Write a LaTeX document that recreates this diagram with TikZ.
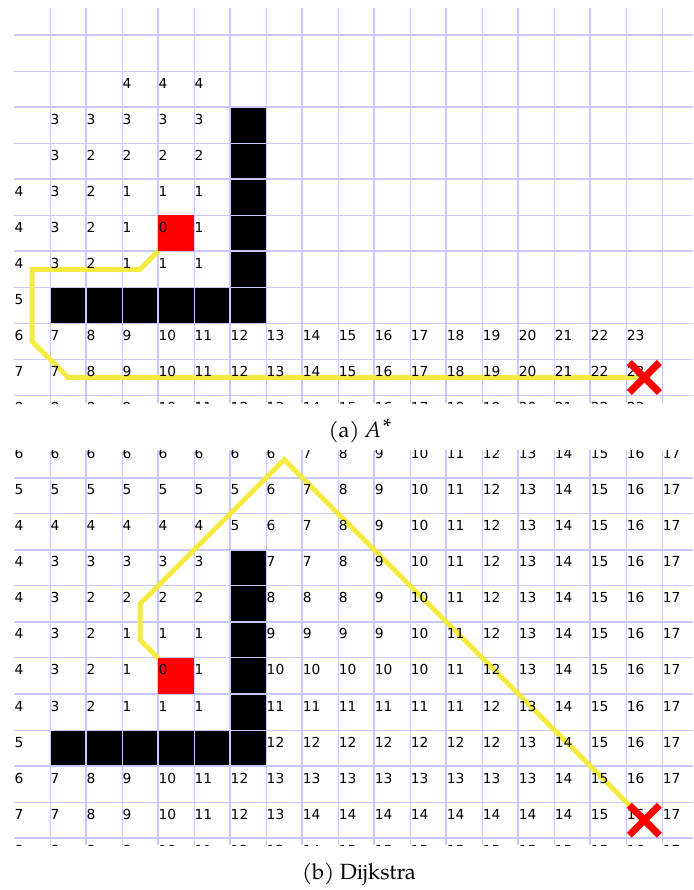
\documentclass[tikz,border=0pt]{standalone}
\usepackage{fontspec}
\usetikzlibrary{calc}
\newfontfamily\gridfont{DejaVu Sans}
\newfontfamily\capfont{TeX Gyre Pagella}
\definecolor{gridc}{RGB}{200,200,255}
\definecolor{pathc}{RGB}{245,234,66}
\tikzset{
  num/.style={font={\gridfont\fontsize{13.8pt}{16pt}\selectfont}, anchor=base west, inner sep=0pt, text=black},
  thingrid/.style={draw=gridc, line width=1pt},
  thickgrid/.style={draw=gridc, line width=1.7pt},
  route/.style={draw=pathc, line width=5pt},
  goalmark/.style={draw=red, line width=7pt},
  caption/.style={font={\capfont\fontsize{22pt}{26pt}\selectfont}, anchor=base, inner sep=0pt},
}
\def\nocell{-}
% #1 name prefix, #2 Y0, #3 row index, #4 list of values
\newcommand\cellrow[4]{%
  \foreach \v [count=\i from 0] in {#4} {%
    \ifx\v\nocell\else
      \node[num] (#1-\i) at ({14.4+36.02*\i},{#2+36.05*(#3)+17}) {\v};
    \fi}}
% #1 Y0, #2 top clip, #3 bottom clip
\newcommand\panelgrid[3]{%
  \foreach \c in {1,3,...,17} \draw[thingrid] ({14+36.02*\c},#2) -- ({14+36.02*\c},#3);
  \foreach \c in {2,4,...,18} \draw[thickgrid] ({14+36.02*\c},#2) -- ({14+36.02*\c},#3);
  \foreach \k in {-1,1,3,...,11} \draw[thingrid] (14,{#1+36.05*\k}) -- (693,{#1+36.05*\k});
  \foreach \k in {0,2,...,10} \draw[thickgrid] (14,{#1+36.05*\k}) -- (693,{#1+36.05*\k});
}
% #1 Y0 : obstacle cells
\newcommand\walls[1]{%
  \foreach \r in {2,...,7} \fill[black] ({14+36.02*6},{#1+36.05*\r}) rectangle ++(36.02,36.05);
  \foreach \c in {1,...,5} \fill[black] ({14+36.02*\c},{#1+36.05*7}) rectangle ++(36.02,36.05);
}
\begin{document}
\begin{tikzpicture}[x=1pt,y=-1pt]
\useasboundingbox (0,0) rectangle (693,890);

% ---------------- (a) A* ----------------
\begin{scope}
  \clip (14,8) rectangle (693,403);
  \walls{35}
  \panelgrid{35}{8}{403}
  \coordinate (a0) at ({32+36.02*4},{35+36.05*5+18});
  \coordinate (a1) at ({32+36.02*3},{35+36.05*6+18});
  \coordinate (a2) at ({32+36.02*0},{35+36.05*6+18});
  \coordinate (a3) at ({32+36.02*0},{35+36.05*8+18});
  \coordinate (a4) at ({32+36.02*1},{35+36.05*9+18});
  \coordinate (a5) at ({32+36.02*17},{35+36.05*9+18});
  \draw[route] (a0) -- (a1) -- (a2) -- (a3) -- (a4) -- (a5);
  \fill[red] ({14+36.02*4},{35+36.05*5}) rectangle ++(36.02,36.05);
  \cellrow{a1}{35}{1}{-,-,-,4,4,4}
  \cellrow{a2}{35}{2}{-,3,3,3,3,3}
  \cellrow{a3}{35}{3}{-,3,2,2,2,2}
  \cellrow{a4}{35}{4}{4,3,2,1,1,1}
  \cellrow{a5}{35}{5}{4,3,2,1,0,1}
  \cellrow{a6}{35}{6}{4,3,2,1,1,1}
  \cellrow{a7}{35}{7}{5}
  \cellrow{a8}{35}{8}{6,7,8,9,10,11,12,13,14,15,16,17,18,19,20,21,22,23}
  \cellrow{a9}{35}{9}{7,7,8,9,10,11,12,13,14,15,16,17,18,19,20,21,22,23}
  \cellrow{a10}{35}{10}{8,8,8,9,10,11,12,13,14,15,16,17,18,19,20,21,22,23}
  \draw[goalmark] ($(a5)+(-15,-15)$) coordinate (ax1) -- ($(a5)+(15,15)$) coordinate (ax2);
  \draw[goalmark] ($(a5)+(-15,15)$) coordinate (ax3) -- ($(a5)+(15,-15)$) coordinate (ax4);
\end{scope}
\node[caption] (capa) at (360,437) {(a) {\itshape A}\kern0.08em\raisebox{0.12em}{*}};

% ---------------- (b) Dijkstra ----------------
\begin{scope}
  \clip (14,450) rectangle (693,845);
  \walls{477.7}
  \panelgrid{477.7}{450}{845}
  \coordinate (b0) at ({32+36.02*4},{477.7+36.05*5+18});
  \coordinate (b1) at ({32+36.02*3},{477.7+36.05*4+18});
  \coordinate (b2) at ({32+36.02*3},{477.7+36.05*3+18});
  \coordinate (b3) at ({32+36.02*7},{477.7+36.05*(-1)+18});
  \coordinate (b4) at ({32+36.02*17},{477.7+36.05*9+18});
  \draw[route] (b0) -- (b1) -- (b2) -- (b3) -- (b4);
  \fill[red] ({14+36.02*4},{477.7+36.05*5}) rectangle ++(36.02,36.05);
  \cellrow{bm1}{477.7}{-1}{6,6,6,6,6,6,6,6,7,8,9,10,11,12,13,14,15,16,17}
  \cellrow{b0}{477.7}{0}{5,5,5,5,5,5,5,6,7,8,9,10,11,12,13,14,15,16,17}
  \cellrow{b1}{477.7}{1}{4,4,4,4,4,4,5,6,7,8,9,10,11,12,13,14,15,16,17}
  \cellrow{b2}{477.7}{2}{4,3,3,3,3,3,-,7,7,8,9,10,11,12,13,14,15,16,17}
  \cellrow{b3}{477.7}{3}{4,3,2,2,2,2,-,8,8,8,9,10,11,12,13,14,15,16,17}
  \cellrow{b4}{477.7}{4}{4,3,2,1,1,1,-,9,9,9,9,10,11,12,13,14,15,16,17}
  \cellrow{b5}{477.7}{5}{4,3,2,1,0,1,-,10,10,10,10,10,11,12,13,14,15,16,17}
  \cellrow{b6}{477.7}{6}{4,3,2,1,1,1,-,11,11,11,11,11,11,12,13,14,15,16,17}
  \cellrow{b7}{477.7}{7}{5,-,-,-,-,-,-,12,12,12,12,12,12,12,13,14,15,16,17}
  \cellrow{b8}{477.7}{8}{6,7,8,9,10,11,12,13,13,13,13,13,13,13,13,14,15,16,17}
  \cellrow{b9}{477.7}{9}{7,7,8,9,10,11,12,13,14,14,14,14,14,14,14,14,15,16,17}
  \cellrow{b10}{477.7}{10}{8,8,8,9,10,11,12,13,14,15,15,15,15,15,15,15,15,16,17}
  \draw[goalmark] ($(b4)+(-15,-15)$) coordinate (bx1) -- ($(b4)+(15,15)$) coordinate (bx2);
  \draw[goalmark] ($(b4)+(-15,15)$) coordinate (bx3) -- ($(b4)+(15,-15)$) coordinate (bx4);
\end{scope}
\node[caption] (capb) at (359,879) {(b) Dijkstra};
\end{tikzpicture}
\end{document}
